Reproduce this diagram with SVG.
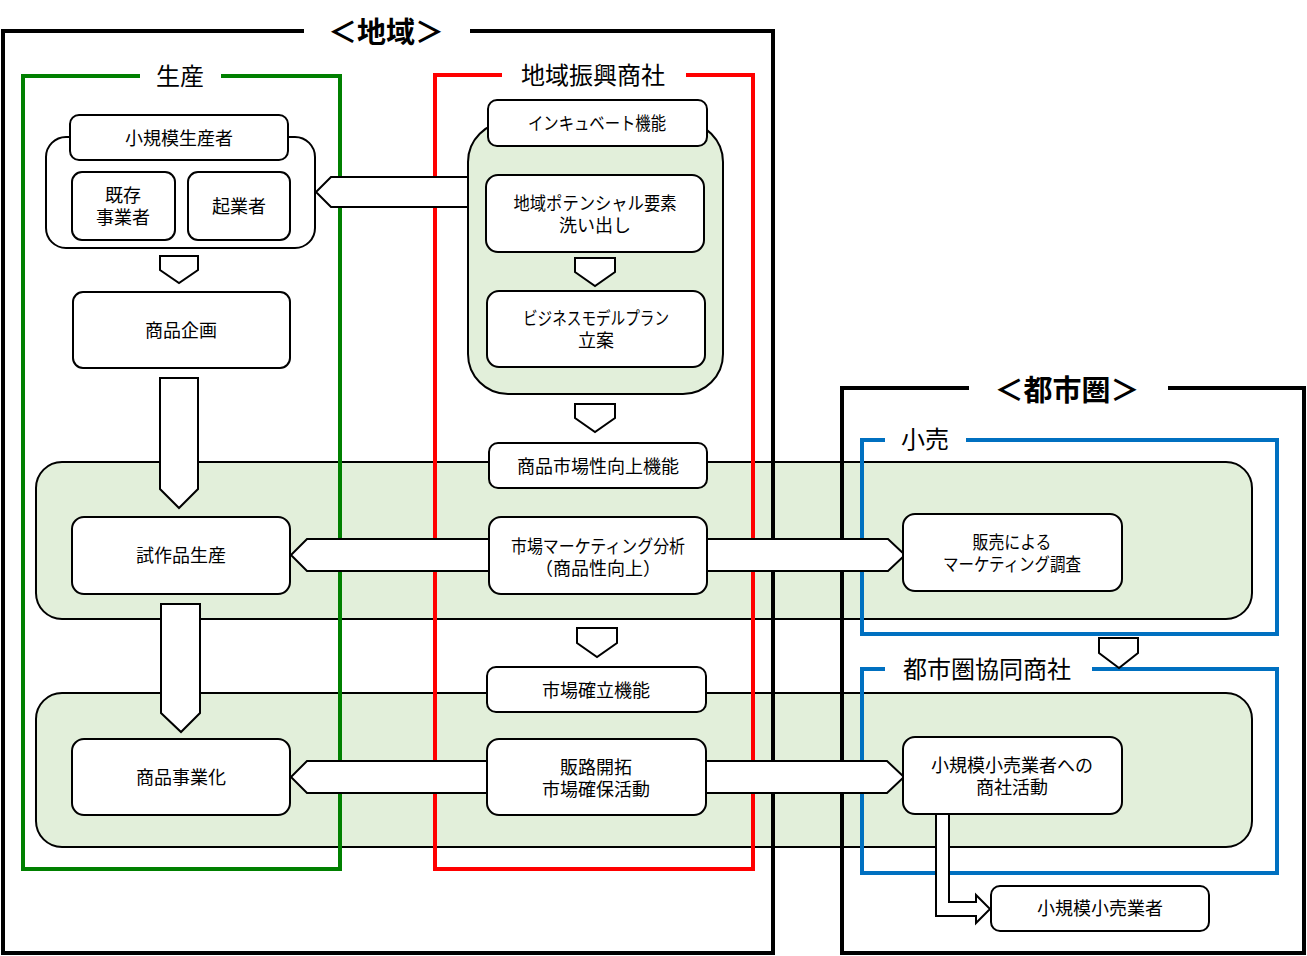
<svg xmlns="http://www.w3.org/2000/svg" width="1307" height="956" viewBox="0 0 1307 956">
<style>
.frame{fill:none;stroke-width:4;stroke-linejoin:miter}
.band{fill:#E2EFDA;stroke:#000;stroke-width:2}
.box{fill:#fff;stroke:#000;stroke-width:2}
.arr{fill:#fff;stroke:#000;stroke-width:2;stroke-linejoin:miter}
text{font-family:"Noto Sans CJK JP","Noto Sans",sans-serif;text-anchor:middle;dominant-baseline:central;fill:#000}
.t{font-size:18px}
.h{font-size:24px}
.big{font-size:29px;font-weight:bold}
</style>
<rect width="1307" height="956" fill="#fff"/>
<g id="bands">
<rect class="band" x="36" y="462" width="1216" height="157" rx="26"/>
<rect class="band" x="36" y="693" width="1216" height="154" rx="26"/>
</g>
<g id="region-chiiki">
<path class="frame" stroke="#000" d="M304,31 H3 V953 H773 V31 H470"/>
<text class="big" x="386" y="30">＜地域＞</text>
</g>
<g id="region-seisan">
<path class="frame" stroke="#008000" d="M140,76 H23 V869 H340 V76 H221"/>
<text class="h" x="180" y="74">生産</text>
</g>
<g id="region-shosha">
<path class="frame" stroke="#FF0000" d="M502,75 H435 V869 H753 V75 H686"/>
<text class="h" x="593" y="73">地域振興商社</text>
</g>
<g id="region-toshiken">
<path class="frame" stroke="#000" d="M969,388 H842 V953 H1304 V388 H1168"/>
<text class="big" x="1067" y="388">＜都市圏＞</text>
</g>
<g id="region-kouri">
<path class="frame" stroke="#0070C0" d="M885,440 H862 V634 H1277 V440 H966"/>
<text class="h" x="925" y="437">小売</text>
</g>
<g id="region-kyodo">
<path class="frame" stroke="#0070C0" d="M885,669 H862 V873 H1277 V669 H1092"/>
<text class="h" x="987" y="667">都市圏協同商社</text>
</g>
<g id="incubate-panel">
<rect class="band" x="468" y="122" width="255" height="272" rx="40"/>
</g>
<g id="connectors">
<polygon class="arr" points="468,177 331,177 316,192 331,207 468,207"/>
<polygon class="arr" points="160,256 198,256 198,270 179,283 160,270"/>
<polygon class="arr" points="160,378 198,378 198,489 179,508 160,489"/>
<polygon class="arr" points="575,258 615,258 615,272 595,286 575,272"/>
<polygon class="arr" points="575,404 615,404 615,418 595,432 575,418"/>
<polygon class="arr" points="489,539 307,539 291,555 307,571 489,571"/>
<polygon class="arr" points="707,539 888,539 905,555 888,571 707,571"/>
<polygon class="arr" points="161,604 200,604 200,713 181,732 161,713"/>
<polygon class="arr" points="577,628 617,628 617,643 597,657 577,643"/>
<polygon class="arr" points="1099,638 1138,638 1138,653 1119,668 1099,653"/>
<polygon class="arr" points="487,761 307,761 291,777 307,793 487,793"/>
<polygon class="arr" points="706,761 887,761 904,777 887,793 706,793"/>
<polygon class="arr" points="936,814 949,814 949,902 976,902 976,895 990,909 976,923 976,916 936,916"/>
</g>
<g id="node-producers">
<rect class="box" x="46" y="137" width="269" height="111" rx="20"/>
<rect class="box" x="70" y="115" width="218" height="45" rx="9"/>
<text class="t" x="179" y="137">小規模生産者</text>
</g>
<g id="node-kizon">
<rect class="box" x="72" y="172" width="103" height="68" rx="10"/>
<text class="t" x="123" y="194">既存</text>
<text class="t" x="123" y="216">事業者</text>
</g>
<g id="node-kigyo">
<rect class="box" x="188" y="172" width="102" height="68" rx="10"/>
<text class="t" x="239" y="205">起業者</text>
</g>
<g id="node-kikaku">
<rect class="box" x="73" y="292" width="217" height="76" rx="10"/>
<text class="t" x="181" y="329">商品企画</text>
</g>
<g id="node-incubate">
<rect class="box" x="488" y="100" width="219" height="46" rx="9"/>
<text class="t" x="597" y="122" textLength="138" lengthAdjust="spacingAndGlyphs">インキュベート機能</text>
</g>
<g id="node-potential">
<rect class="box" x="486" y="175" width="218" height="77" rx="12"/>
<text class="t" x="595" y="202" textLength="163" lengthAdjust="spacingAndGlyphs">地域ポテンシャル要素</text>
<text class="t" x="595" y="224">洗い出し</text>
</g>
<g id="node-bizmodel">
<rect class="box" x="487" y="291" width="218" height="76" rx="12"/>
<text class="t" x="596" y="317" textLength="146" lengthAdjust="spacingAndGlyphs">ビジネスモデルプラン</text>
<text class="t" x="596" y="339">立案</text>
</g>
<g id="node-shijosei">
<rect class="box" x="489" y="443" width="218" height="45" rx="9"/>
<text class="t" x="598" y="465">商品市場性向上機能</text>
</g>
<g id="node-marketing">
<rect class="box" x="489" y="517" width="218" height="77" rx="12"/>
<text class="t" x="598" y="545" textLength="174" lengthAdjust="spacingAndGlyphs">市場マーケティング分析</text>
<text class="t" x="598" y="567">（商品性向上）</text>
</g>
<g id="node-shisaku">
<rect class="box" x="72" y="517" width="218" height="77" rx="12"/>
<text class="t" x="181" y="554">試作品生産</text>
</g>
<g id="node-hanbai">
<rect class="box" x="903" y="514" width="219" height="77" rx="12"/>
<text class="t" x="1012" y="541" textLength="79" lengthAdjust="spacingAndGlyphs">販売による</text>
<text class="t" x="1012" y="563" textLength="138" lengthAdjust="spacingAndGlyphs">マーケティング調査</text>
</g>
<g id="node-kakuritsu">
<rect class="box" x="487" y="667" width="219" height="45" rx="9"/>
<text class="t" x="596" y="689">市場確立機能</text>
</g>
<g id="node-hanro">
<rect class="box" x="487" y="739" width="219" height="76" rx="12"/>
<text class="t" x="596" y="766">販路開拓</text>
<text class="t" x="596" y="788">市場確保活動</text>
</g>
<g id="node-jigyoka">
<rect class="box" x="72" y="739" width="218" height="76" rx="12"/>
<text class="t" x="181" y="776">商品事業化</text>
</g>
<g id="node-shoshakatsudo">
<rect class="box" x="903" y="737" width="219" height="77" rx="12"/>
<text class="t" x="1012" y="764">小規模小売業者への</text>
<text class="t" x="1012" y="786">商社活動</text>
</g>
<g id="node-kouri-gyosha">
<rect class="box" x="991" y="886" width="218" height="45" rx="9"/>
<text class="t" x="1100" y="907">小規模小売業者</text>
</g>
</svg>
